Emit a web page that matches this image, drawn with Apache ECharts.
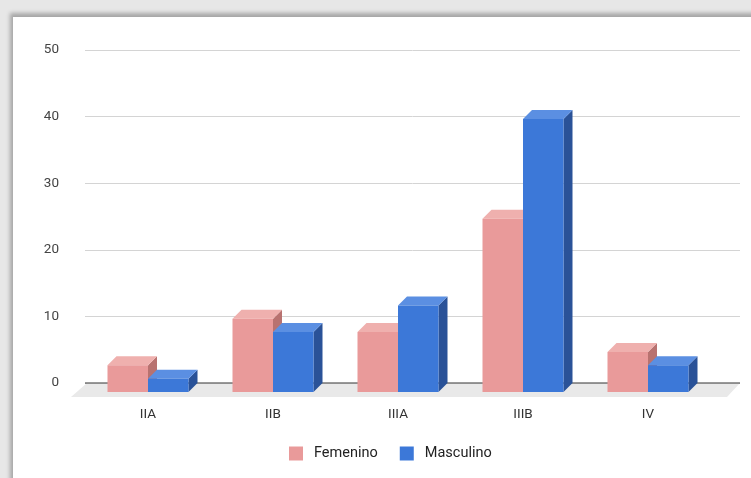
<!DOCTYPE html>
<html>
<head>
<meta charset="utf-8">
<script src="https://cdn.jsdelivr.net/npm/echarts@6/dist/echarts.min.js"></script>
<style>
  html, body { margin: 0; padding: 0; }
  body { width: 751px; height: 478px; background: #e7e7e7; position: relative; overflow: hidden; }
  #sheet {
    position: absolute; left: 13px; top: 17px; width: 760px; height: 480px;
    background: #ffffff;
    box-shadow: -3px -4px 4px rgba(0,0,0,0.28);
  }
  #chart { position: absolute; left: 0; top: 0; width: 751px; height: 478px; }
</style>
</head>
<body>
<div id="sheet"></div>
<div id="chart"></div>
<script>
// Stages and counts per sex
const categories = ['IIA', 'IIB', 'IIIA', 'IIIB', 'IV'];
const femenino = [4, 11, 9, 26, 6];
const masculino = [2, 9, 13, 41, 4];
const yTicks = { min: 0, max: 50, interval: 10 };

// Face colours for the extruded bars: [front, top, side]
const pinkFaces = ['#e99a9a', '#efb0ae', '#b87270'];
const blueFaces = ['#3c78d8', '#5b8fe2', '#2a5298'];

const DX = 9, DY = 9;          // extrusion depth
const BAR_RATIO = 0.324;       // each bar's share of a category band

function barRenderer(faces, side) {
  return function (params, api) {
    const idx = api.value(0);
    const val = api.value(1);
    const top = api.coord([idx, val]);
    const base = api.coord([idx, 0]);
    const band = api.size([1, 0])[0];
    const w = band * BAR_RATIO;
    const x0 = side < 0 ? top[0] - w : top[0];
    const x1 = x0 + w;
    const fy = top[1] + DY;        // front top
    const by = base[1] + DY;       // front bottom
    return {
      type: 'group',
      children: [
        { type: 'polygon', shape: { points: [[x1, fy], [x1 + DX, top[1]], [x1 + DX, base[1]], [x1, by]] },
          style: { fill: faces[2] } },
        { type: 'polygon', shape: { points: [[x0, fy], [x0 + DX, top[1]], [x1 + DX, top[1]], [x1, fy]] },
          style: { fill: faces[1] } },
        { type: 'rect', shape: { x: x0, y: fy, width: w, height: by - fy },
          style: { fill: faces[0] } }
      ]
    };
  };
}

// Floor plane and baseline under the bars
function floorRenderer(params, api) {
  const cs = params.coordSys;
  const y0 = api.coord([0, 0])[1];
  const right = cs.x + cs.width;
  return {
    type: 'group',
    children: [
      { type: 'polygon', shape: { points: [[cs.x + 2, y0], [right, y0], [right - 13, y0 + 14], [cs.x - 14, y0 + 14]] },
        style: { fill: '#e9e9e9' } },
      { type: 'line', shape: { x1: cs.x, y1: y0, x2: right, y2: y0 },
        style: { stroke: '#333333', lineWidth: 1 } }
    ]
  };
}

const chart = echarts.init(document.getElementById('chart'), null, { renderer: 'canvas' });
const textStyle = { fontFamily: 'Roboto, Arial, sans-serif', fontSize: 13.5, color: '#444444' };

chart.setOption({
  animation: false,
  textStyle: { fontFamily: 'Roboto, Arial, sans-serif' },
  grid: [
    { left: 85, right: 11, top: 50, bottom: 95 },
    { left: 85.5, width: 625, top: 50, bottom: 95 }
  ],
  xAxis: [
    { gridIndex: 0, type: 'value', min: 0, max: 1, show: false },
    { gridIndex: 1, type: 'category', data: categories,
      axisLine: { show: false }, axisTick: { show: false },
      axisLabel: Object.assign({ margin: 25 }, textStyle, { color: '#333333' }) }
  ],
  yAxis: [
    { gridIndex: 0, type: 'value', min: yTicks.min, max: yTicks.max, interval: yTicks.interval,
      axisLine: { show: false }, axisTick: { show: false },
      axisLabel: Object.assign({ margin: 26 }, textStyle),
      splitLine: { lineStyle: { color: '#d4d4d4', width: 1 } } },
    { gridIndex: 1, type: 'value', min: yTicks.min, max: yTicks.max, interval: yTicks.interval, show: false,
      splitLine: { show: false } }
  ],
  legend: {
    left: 284, top: 441,
    icon: 'rect', itemWidth: 14, itemHeight: 14, itemGap: 22,
    textStyle: { fontFamily: 'Roboto, Arial, sans-serif', fontSize: 14.5, color: '#222222', padding: [0, 0, 0, 6] },
    data: ['Femenino', 'Masculino']
  },
  series: [
    { type: 'custom', name: 'floor', xAxisIndex: 0, yAxisIndex: 0, silent: true,
      renderItem: floorRenderer, data: [[0, 0]] },
    { type: 'custom', name: 'Femenino', xAxisIndex: 1, yAxisIndex: 1,
      itemStyle: { color: pinkFaces[0] },
      renderItem: barRenderer(pinkFaces, -1),
      encode: { x: 0, y: 1 },
      data: femenino.map((v, i) => [i, v]) },
    { type: 'custom', name: 'Masculino', xAxisIndex: 1, yAxisIndex: 1,
      itemStyle: { color: blueFaces[0] },
      renderItem: barRenderer(blueFaces, 1),
      encode: { x: 0, y: 1 },
      data: masculino.map((v, i) => [i, v]) }
  ]
});
</script>
</body>
</html>
